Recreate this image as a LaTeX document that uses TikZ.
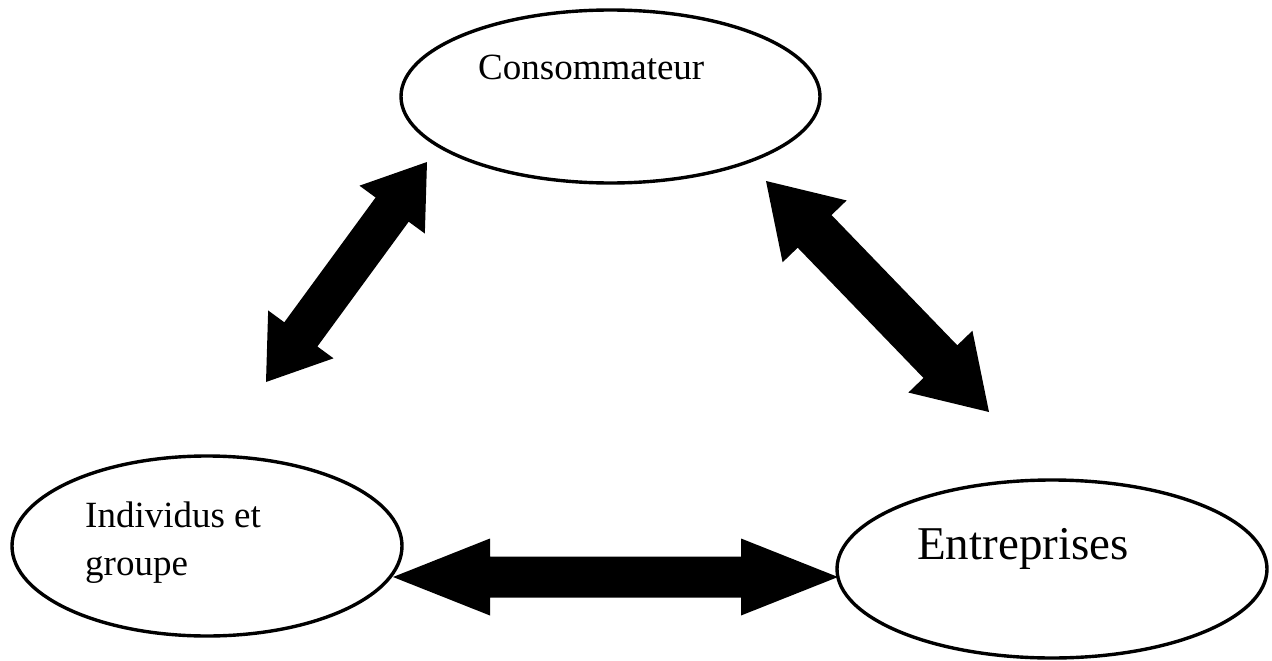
\documentclass[tikz,border=0pt]{standalone}
\usepackage{fontspec}
\setmainfont{Liberation Serif}
\usetikzlibrary{shapes.geometric,calc}

% Double-headed block arrow between two named coordinates:
% #1, #2 tips; #3 half shaft width; #4 half head width; #5 head length
\newcommand\twowayarrow[5]{%
  \fill ($(#1)$)
    -- ($(#1)!#5!(#2)!#4!90:(#2)$)
    -- ($(#1)!#5!(#2)!#3!90:(#2)$)
    -- ($(#2)!#5!(#1)!#3!-90:(#1)$)
    -- ($(#2)!#5!(#1)!#4!-90:(#1)$)
    -- (#2)
    -- ($(#2)!#5!(#1)!#4!90:(#1)$)
    -- ($(#2)!#5!(#1)!#3!90:(#1)$)
    -- ($(#1)!#5!(#2)!#3!-90:(#2)$)
    -- ($(#1)!#5!(#2)!#4!-90:(#2)$)
    -- cycle;}

\begin{document}
\begin{tikzpicture}[x=1pt,y=-1pt,
  ell/.style={draw=black, line width=3.4pt, ellipse, inner sep=0pt},
  lbl/.style={inner sep=0pt, anchor=base west, font=\fontsize{37}{48}\selectfont, align=left}]
\useasboundingbox (0,0) rectangle (1272,661);

% ellipses
\node[ell, minimum width=419pt, minimum height=173pt] (cons) at (610.5,96.5) {};
\node[ell, minimum width=390pt, minimum height=180pt] (indiv) at (207,546) {};
\node[ell, minimum width=430pt, minimum height=178pt] (entr) at (1052,569) {};

% labels
\node[lbl] (tcons) at (478,80) {Consommateur};
\node[lbl, anchor=base west] (tindiv) at (85,527) {Individus et};
\node[lbl, anchor=base west] (tgroupe) at (85,575) {groupe};
\node[lbl, font=\fontsize{47}{56}\selectfont] (tentr) at (917,559) {Entreprises};

% arrow end points
\coordinate (a1) at (427,162);
\coordinate (b1) at (266,382);
\coordinate (a2) at (766,181);
\coordinate (b2) at (989,412);
\coordinate (a3) at (393,577);
\coordinate (b3) at (838,577);

% block arrows
\twowayarrow{a1}{b1}{20.5pt}{40.5pt}{59pt}
\twowayarrow{a2}{b2}{23.5pt}{44.5pt}{70pt}
\twowayarrow{a3}{b3}{20.5pt}{38.5pt}{97pt}
\end{tikzpicture}
\end{document}
